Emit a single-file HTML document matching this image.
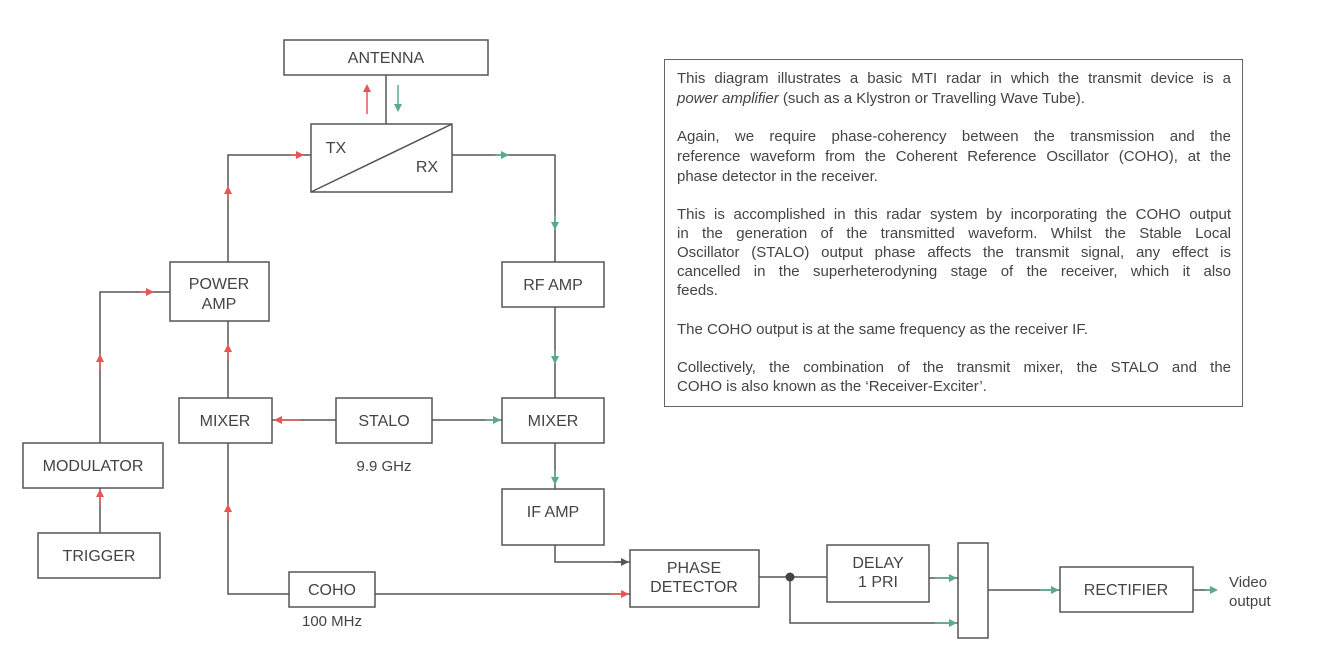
<!DOCTYPE html>
<html><head><meta charset="utf-8"><style>
body{margin:0;background:#fff;width:1334px;height:660px;overflow:hidden;position:relative;font-family:"Liberation Sans",Arial,sans-serif;}
svg{position:absolute;left:0;top:0}
#tb{position:absolute;left:664px;top:59px;width:579px;height:348px;border:1.5px solid #666;box-sizing:border-box;}
#tb .l{position:absolute;left:12px;width:554px;font-size:15px;color:#444;white-space:nowrap;line-height:19px;}
#tb .j{text-align:justify;text-align-last:justify;}
</style></head><body>
<svg width="1334" height="660" viewBox="0 0 1334 660" font-family="Liberation Sans, Arial, sans-serif" font-size="16" fill="#444">
<defs>
<marker id="r" markerWidth="8" markerHeight="8" refX="4" refY="4" orient="auto" markerUnits="userSpaceOnUse"><path d="M0,0 L8,4 L0,8z" fill="#e85555"/></marker>
<marker id="g" markerWidth="8" markerHeight="8" refX="4" refY="4" orient="auto" markerUnits="userSpaceOnUse"><path d="M0,0 L8,4 L0,8z" fill="#5aaa88"/></marker>
<marker id="k" markerWidth="8" markerHeight="8" refX="4" refY="4" orient="auto" markerUnits="userSpaceOnUse"><path d="M0,0 L8,4 L0,8z" fill="#555"/></marker>
</defs>
<g fill="#fff" stroke="#555" stroke-width="1.5">
<rect x="284" y="40" width="204" height="35"/>
<rect x="311" y="124" width="141" height="68"/>
<rect x="170" y="262" width="99" height="59"/>
<rect x="502" y="262" width="102" height="45"/>
<rect x="179" y="398" width="93" height="45"/>
<rect x="336" y="398" width="96" height="45"/>
<rect x="502" y="398" width="102" height="45"/>
<rect x="23" y="443" width="140" height="45"/>
<rect x="38" y="533" width="122" height="45"/>
<rect x="502" y="489" width="102" height="56"/>
<rect x="289" y="572" width="86" height="35"/>
<rect x="630" y="550" width="129" height="57"/>
<rect x="827" y="545" width="102" height="57"/>
<rect x="958" y="543" width="30" height="95"/>
<rect x="1060" y="567" width="133" height="45"/>
</g>
<g fill="none" stroke="#555" stroke-width="1.5">
<line x1="311" y1="192" x2="452" y2="124"/>
<line x1="386" y1="75" x2="386" y2="124"/>
<polyline points="228,262 228,155 311,155"/>
<polyline points="452,155 555,155 555,262"/>
<line x1="555" y1="307" x2="555" y2="398"/>
<line x1="432" y1="420" x2="502" y2="420"/>
<line x1="336" y1="420" x2="272" y2="420"/>
<line x1="228" y1="398" x2="228" y2="321"/>
<polyline points="100,443 100,292 170,292"/>
<line x1="100" y1="533" x2="100" y2="488"/>
<line x1="555" y1="443" x2="555" y2="489"/>
<polyline points="555,545 555,562 630,562"/>
<polyline points="228,443 228,594 289,594"/>
<line x1="375" y1="594" x2="630" y2="594"/>
<line x1="759" y1="577" x2="827" y2="577"/>
<polyline points="790,577 790,623 958,623"/>
<line x1="929" y1="578" x2="958" y2="578"/>
<line x1="988" y1="590" x2="1060" y2="590"/>
<line x1="1193" y1="590" x2="1214" y2="590"/>
</g>
<circle cx="790" cy="577" r="4.5" fill="#444"/>
<g stroke-width="1.5">
<line x1="367" y1="114" x2="367" y2="88" stroke="#e85555" marker-end="url(#r)"/>
<line x1="398" y1="85" x2="398" y2="108" stroke="#5aaa88" marker-end="url(#g)"/>
<line x1="290" y1="155" x2="300" y2="155" stroke="#e85555" marker-end="url(#r)"/>
<line x1="228" y1="200" x2="228" y2="190" stroke="#e85555" marker-end="url(#r)"/>
<line x1="495" y1="155" x2="505" y2="155" stroke="#5aaa88" marker-end="url(#g)"/>
<line x1="555" y1="215" x2="555" y2="226" stroke="#5aaa88" marker-end="url(#g)"/>
<line x1="555" y1="350" x2="555" y2="360" stroke="#5aaa88" marker-end="url(#g)"/>
<line x1="485" y1="420" x2="497" y2="420" stroke="#5aaa88" marker-end="url(#g)"/>
<line x1="300" y1="420" x2="278" y2="420" stroke="#e85555" marker-end="url(#r)"/>
<line x1="228" y1="360" x2="228" y2="348" stroke="#e85555" marker-end="url(#r)"/>
<line x1="100" y1="370" x2="100" y2="358" stroke="#e85555" marker-end="url(#r)"/>
<line x1="140" y1="292" x2="150" y2="292" stroke="#e85555" marker-end="url(#r)"/>
<line x1="100" y1="505" x2="100" y2="493" stroke="#e85555" marker-end="url(#r)"/>
<line x1="555" y1="470" x2="555" y2="481" stroke="#5aaa88" marker-end="url(#g)"/>
<line x1="615" y1="562" x2="625" y2="562" stroke="#555" marker-end="url(#k)"/>
<line x1="228" y1="520" x2="228" y2="508" stroke="#e85555" marker-end="url(#r)"/>
<line x1="610" y1="594" x2="625" y2="594" stroke="#e85555" marker-end="url(#r)"/>
<line x1="935" y1="578" x2="953" y2="578" stroke="#5aaa88" marker-end="url(#g)"/>
<line x1="935" y1="623" x2="953" y2="623" stroke="#5aaa88" marker-end="url(#g)"/>
<line x1="1040" y1="590" x2="1055" y2="590" stroke="#5aaa88" marker-end="url(#g)"/>
<line x1="1205" y1="590" x2="1214" y2="590" stroke="#5aaa88" marker-end="url(#g)"/>
</g>
<g text-anchor="middle" font-size="16">
<text x="386" y="63">ANTENNA</text>
<text x="336" y="153">TX</text>
<text x="427" y="172">RX</text>
<text x="219" y="289">POWER</text>
<text x="219" y="309">AMP</text>
<text x="553" y="290">RF AMP</text>
<text x="225" y="426">MIXER</text>
<text x="384" y="426">STALO</text>
<text x="553" y="426">MIXER</text>
<text x="384" y="471" font-size="15">9.9 GHz</text>
<text x="93" y="471">MODULATOR</text>
<text x="99" y="561">TRIGGER</text>
<text x="553" y="517">IF AMP</text>
<text x="332" y="595">COHO</text>
<text x="332" y="626" font-size="15">100 MHz</text>
<text x="694" y="573">PHASE</text>
<text x="694" y="592">DETECTOR</text>
<text x="878" y="568">DELAY</text>
<text x="878" y="587">1 PRI</text>
<text x="1126" y="595">RECTIFIER</text>
</g>
<text x="1229" y="587" font-size="15">Video</text>
<text x="1229" y="606" font-size="15">output</text>
</svg>
<div id="tb">
<div class="l j" style="top:9px">This diagram illustrates a basic MTI radar in which the transmit device is a</div>
<div class="l" style="top:29px"><i>power amplifier</i> (such as a Klystron or Travelling Wave Tube).</div>
<div class="l j" style="top:67px">Again, we require phase-coherency between the transmission and the</div>
<div class="l j" style="top:87px">reference waveform from the Coherent Reference Oscillator (COHO), at the</div>
<div class="l" style="top:107px">phase detector in the receiver.</div>
<div class="l j" style="top:145px">This is accomplished in this radar system by incorporating the COHO output</div>
<div class="l j" style="top:164px">in the generation of the transmitted waveform. Whilst the Stable Local</div>
<div class="l j" style="top:183px">Oscillator (STALO) output phase affects the transmit signal, any effect is</div>
<div class="l j" style="top:202px">cancelled in the superheterodyning stage of the receiver, which it also</div>
<div class="l" style="top:221px">feeds.</div>
<div class="l" style="top:260px">The COHO output is at the same frequency as the receiver IF.</div>
<div class="l j" style="top:298px">Collectively, the combination of the transmit mixer, the STALO and the</div>
<div class="l" style="top:317px">COHO is also known as the ‘Receiver-Exciter’.</div>
</div>
</body></html>
